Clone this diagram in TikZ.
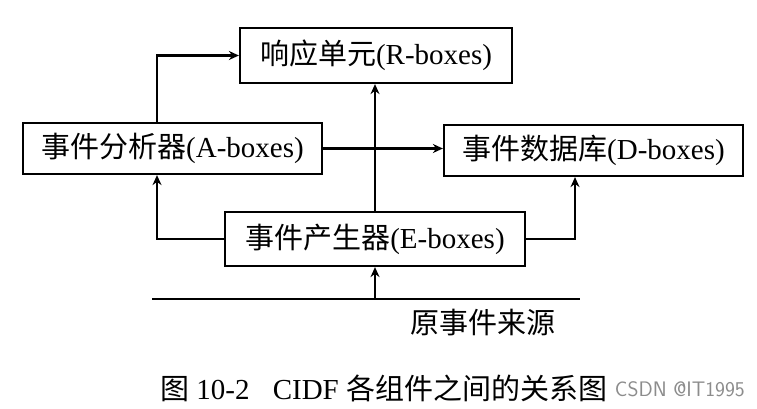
\documentclass[tikz,border=0pt]{standalone}
\usepackage{fontspec}
\setmainfont{Liberation Serif}
\newfontfamily\cjk{Noto Sans CJK SC}
\newcommand{\zh}[1]{{\cjk #1}}
\usetikzlibrary{arrows.meta}
\tikzset{
  blk/.style={draw,line width=2.2pt,inner sep=0pt,font=\fontsize{29}{32}\selectfont},
  flow/.style={line width=2.2pt,-{Stealth[length=10pt,width=9pt]}}
}
\begin{document}
\begin{tikzpicture}[x=1pt,y=-1pt]
  \useasboundingbox[fill=white] (0,0) rectangle (757,409);

  \node [blk,minimum width=272pt,minimum height=55pt] (R) at (376,55.5) {\zh{响应单元}(R-boxes)};
  \node [blk,minimum width=299pt,minimum height=51pt] (A) at (172.5,148.5) {\zh{事件分析器}(A-boxes)};
  \node [blk,minimum width=299pt,minimum height=51pt] (D) at (593.5,150.5) {\zh{事件数据库}(D-boxes)};
  \node [blk,minimum width=300pt,minimum height=54pt] (E) at (375,239) {\zh{事件产生器}(E-boxes)};

  \coordinate (srcL) at (152,299);
  \coordinate (srcR) at (580,299);
  \draw[line width=2.2pt] (srcL) -- (srcR);
  \node [font=\fontsize{29}{32}\selectfont] (src) at (483,323) {\zh{原事件来源}};

  \draw[flow] ([xshift=-15.5pt]A.north) |- (R.west);
  \draw[flow] (E.north) -- (E.north |- R.south);
  \draw[flow] (A.east) -- (A.east -| D.west);
  \draw[flow] (E.west) -| ([xshift=-15.5pt]A.south);
  \draw[flow] (E.east) -| ([xshift=-18.5pt]D.south);
  \draw[flow] (E.south |- srcL) -- (E.south);

  \node [font=\fontsize{29}{32}\selectfont,anchor=west,inner sep=0pt] (cap) at (160,388) {\zh{图} 10-2\hspace{0.8em}CIDF \zh{各组件之间的关系图}};
  \node [font=\fontsize{21}{24}\sffamily,text=black!45,anchor=east,inner sep=0pt] (mark) at (745,389) {CSDN @IT1995};
\end{tikzpicture}
\end{document}
